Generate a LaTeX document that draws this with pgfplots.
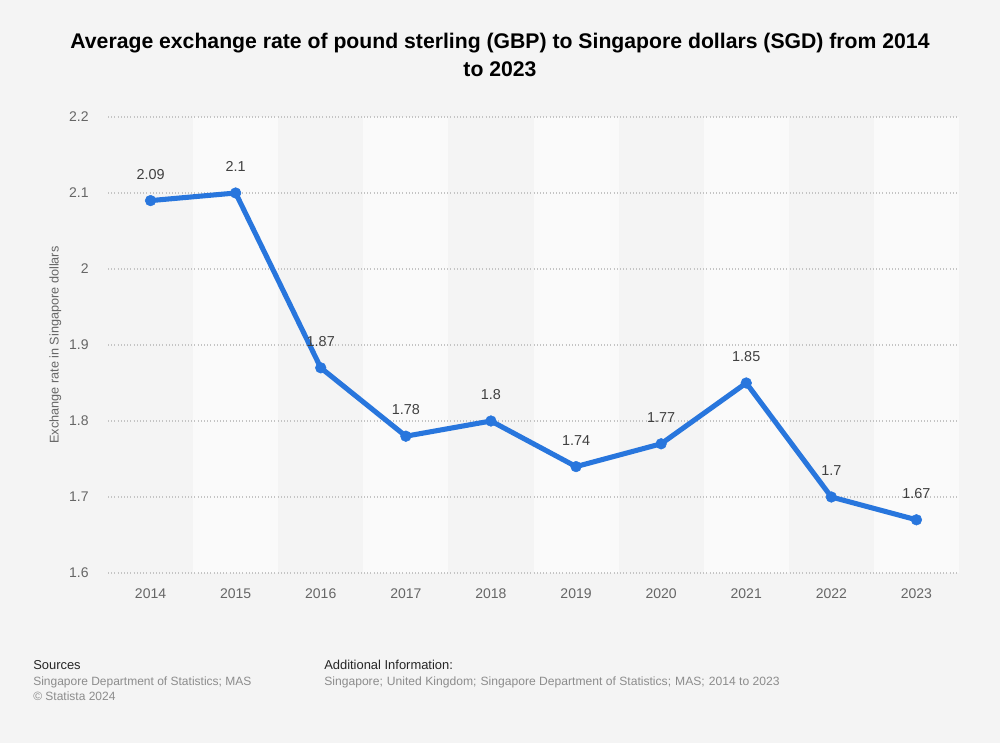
\documentclass[border=0pt]{standalone}
\usepackage{pgfplots}
\pgfplotsset{compat=1.18}
\usepackage{fontspec}
\setmainfont{Liberation Sans}
\definecolor{bg}{HTML}{F4F4F4}
\definecolor{band}{HTML}{FAFAFA}
\definecolor{line}{HTML}{2876DD}
\definecolor{tick}{HTML}{666666}
\definecolor{gridc}{HTML}{C4C4C4}
\pagecolor{bg}
\begin{document}
\begin{tikzpicture}
\begin{axis}[
  set layers,
  at={(81pt,127.5pt)}, anchor=south west,
  scale only axis, width=638.25pt, height=342pt,
  xmin=-0.5, xmax=9.5, ymin=1.6, ymax=2.2,
  axis line style={draw=none},
  xtick={0,...,9},
  xticklabels={2014,2015,2016,2017,2018,2019,2020,2021,2022,2023},
  ytick={1.6,1.7,1.8,1.9,2,2.1,2.2},
  yticklabels={1.6,1.7,1.8,1.9,2,2.1,2.2},
  major tick length=0pt,
  ymajorgrids, grid style={gridc, dotted, line width=0.8pt},
  tick label style={font=\fontsize{10.5}{12}\selectfont, text=tick},
  xticklabel style={yshift=-8pt},
  yticklabel style={xshift=-11pt},
  ylabel={Exchange rate in Singapore dollars},
  ylabel style={font=\fontsize{9.5}{11}\selectfont, text=tick, yshift=-1pt},
  clip=false,
]
\begin{pgfonlayer}{axis background}
\foreach \i in {1,3,5,7,9}{
  \edef\tmp{\noexpand\fill[band] (axis cs:\i-0.5,1.6) rectangle (axis cs:\i+0.5,2.2);}
  \tmp
}
\end{pgfonlayer}
\addplot[line, line width=3.8pt, line join=round, mark=*, mark size=4pt,
  mark options={solid, fill=line, draw=line, line width=0.4pt},
  nodes near coords, point meta=explicit symbolic,
  every node near coord/.append style={font=\fontsize{10.8}{12}\selectfont, text=black!75, anchor=base, inner sep=0pt, yshift=16pt}]
  table[meta=lab] {
x y lab
0 2.09 2.09
1 2.1 2.1
2 1.87 1.87
3 1.78 1.78
4 1.8 1.8
5 1.74 1.74
6 1.77 1.77
7 1.85 1.85
8 1.7 1.7
9 1.67 1.67
};
\end{axis}
\node[font=\bfseries\fontsize{15.9}{21}\selectfont, align=center, anchor=center] at (375pt,516pt)
  {Average exchange rate of pound sterling (GBP) to Singapore dollars (SGD) from 2014\\to 2023};
\node[anchor=base west, inner sep=0pt, font=\fontsize{9.7}{11}\selectfont, text=black!85] at (24.75pt,55pt) {Sources};
\node[anchor=base west, inner sep=0pt, font=\fontsize{9}{11}\selectfont, text=black!45] at (24.75pt,43pt) {Singapore Department of Statistics; MAS};
\node[anchor=base west, inner sep=0pt, font=\fontsize{9}{11}\selectfont, text=black!45] at (24.75pt,31.5pt) {© Statista 2024};
\node[anchor=base west, inner sep=0pt, font=\fontsize{9.7}{11}\selectfont, text=black!85] at (243pt,55pt) {Additional Information:};
\node[anchor=base west, inner sep=0pt, font=\fontsize{9}{11}\selectfont, text=black!45, xscale=1.01] at (243pt,43pt) {Singapore;\hspace{3pt}United Kingdom;\hspace{3pt}Singapore Department of Statistics;\hspace{3pt}MAS;\hspace{3pt}2014 to 2023};
\path (0,0) rectangle (750pt,557.25pt);
\end{tikzpicture}
\end{document}
